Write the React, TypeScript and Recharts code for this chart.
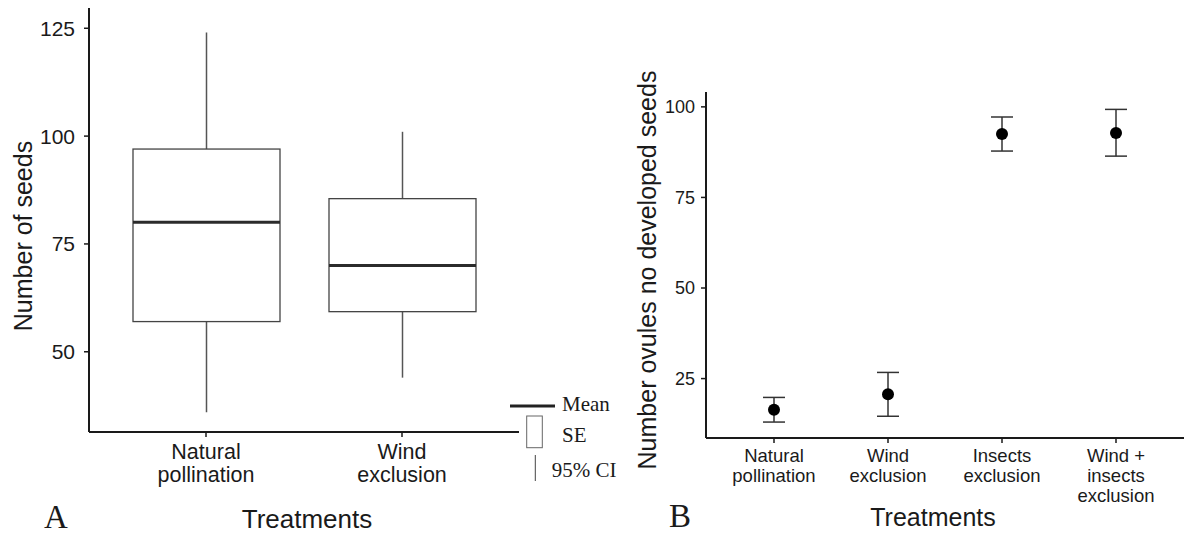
import React from "react";
import { ComposedChart, Bar, Scatter, ErrorBar, XAxis, YAxis } from "recharts";

// Panel A: number of seeds (box = SE, whiskers = 95% CI, line = mean)
const seedCategories = ["Natural\npollination", "Wind\nexclusion"];
const seedLow = [36, 44];
const seedSeLow = [57, 59.3];
const seedMean = [80, 70];
const seedSeHigh = [97, 85.5];
const seedHigh = [124, 101];
const seedTicks = [50, 75, 100, 125];

// Panel B: ovules with no developed seeds (mean +/- error)
const ovuleCategories = [
  "Natural\npollination",
  "Wind\nexclusion",
  "Insects\nexclusion",
  "Wind +\ninsects\nexclusion",
];
const ovuleMean = [16.4, 20.7, 92.5, 92.8];
const ovuleLow = [13.0, 14.6, 87.8, 86.4];
const ovuleHigh = [19.8, 26.7, 97.2, 99.3];
const ovuleTicks = [25, 50, 75, 100];

const SANS = "'Liberation Sans', Arial, sans-serif";
const SERIF = "'Liberation Serif', 'Times New Roman', serif";
const INK = "#1a1a1a";

const seedData = seedCategories.map((name, i) => ({
  name,
  low: seedLow[i],
  seLow: seedSeLow[i],
  mean: seedMean[i],
  seHigh: seedSeHigh[i],
  high: seedHigh[i],
  range: [seedLow[i], seedHigh[i]],
}));

const ovuleData = ovuleCategories.map((name, i) => ({
  name,
  mean: ovuleMean[i],
  err: [ovuleMean[i] - ovuleLow[i], ovuleHigh[i] - ovuleMean[i]],
}));

// draws whisker, SE box and mean line inside the bar's [low, high] pixel span
function BoxShape(props: any) {
  const { x, y, width, height, payload } = props;
  if (!payload) return null;
  const top = Math.min(y, y + height);
  const bottom = Math.max(y, y + height);
  const span = payload.high - payload.low;
  const py = (v: number) => bottom - ((v - payload.low) / span) * (bottom - top);
  const cx = x + width / 2;
  return (
    <g>
      <line x1={cx} x2={cx} y1={top} y2={bottom} stroke="#555" strokeWidth={1.5} />
      <rect
        x={x}
        y={py(payload.seHigh)}
        width={width}
        height={py(payload.seLow) - py(payload.seHigh)}
        fill="#fff"
        stroke="#444"
        strokeWidth={1.3}
      />
      <line x1={x} x2={x + width} y1={py(payload.mean)} y2={py(payload.mean)} stroke="#2b2b2b" strokeWidth={3} />
    </g>
  );
}

function MultiTick(props: any) {
  const { x, y, payload, fontSize, firstDy, lineGap } = props;
  const lines = String(payload.value).split("\n");
  return (
    <text x={x} y={y} textAnchor="middle" fontSize={fontSize} fontFamily={SANS} fill={INK}>
      {lines.map((l, i) => (
        <tspan key={i} x={x} dy={i === 0 ? firstDy : lineGap}>
          {l}
        </tspan>
      ))}
    </text>
  );
}

function Dot(props: any) {
  const { cx, cy } = props;
  return <circle cx={cx} cy={cy} r={6} fill="#000" />;
}

export default function App() {
  return (
    <div style={{ position: "absolute", left: 0, top: 0, width: 1194, height: 536, background: "#fff" }}>
      <div style={{ position: "absolute", left: 0, top: 0 }}>
        <ComposedChart width={540} height={536} data={seedData} margin={{ top: 8, right: 21, bottom: 0, left: 0 }}>
          <XAxis
            dataKey="name"
            height={104}
            padding={{ left: 19, right: 19 }}
            axisLine={{ stroke: INK, strokeWidth: 2 }}
            tickLine={{ stroke: INK, strokeWidth: 1.5 }}
            tickSize={5}
            tickMargin={2}
            interval={0}
            tick={(p: any) => <MultiTick {...p} fontSize={21.5} firstDy={20} lineGap={23} />}
          />
          <YAxis
            type="number"
            width={89}
            domain={[31.4, 129.7]}
            allowDataOverflow
            ticks={seedTicks}
            axisLine={{ stroke: INK, strokeWidth: 2 }}
            tickLine={{ stroke: INK, strokeWidth: 1.5 }}
            tickSize={5}
            tickMargin={9}
            tick={{ fill: INK, fontSize: 21, fontFamily: SANS }}
          />
          <Bar dataKey="range" barSize={147} shape={<BoxShape />} isAnimationActive={false} />
        </ComposedChart>
      </div>

      <div style={{ position: "absolute", left: 600, top: 0 }}>
        <ComposedChart width={594} height={536} data={ovuleData} margin={{ top: 92, right: 10, bottom: 0, left: 0 }}>
          <XAxis
            dataKey="name"
            height={98}
            padding={{ left: 68, right: 68 }}
            axisLine={{ stroke: INK, strokeWidth: 2 }}
            tickLine={{ stroke: INK, strokeWidth: 1.5 }}
            tickSize={5}
            tickMargin={2}
            interval={0}
            tick={(p: any) => <MultiTick {...p} fontSize={18.5} firstDy={17} lineGap={20} />}
          />
          <YAxis
            type="number"
            width={106}
            domain={[8.6, 104.1]}
            allowDataOverflow
            ticks={ovuleTicks}
            axisLine={{ stroke: INK, strokeWidth: 2 }}
            tickLine={{ stroke: INK, strokeWidth: 1.5 }}
            tickSize={5}
            tickMargin={6}
            tick={{ fill: INK, fontSize: 18, fontFamily: SANS }}
          />
          <Scatter dataKey="mean" shape={<Dot />} isAnimationActive={false}>
            <ErrorBar dataKey="err" direction="y" width={11} stroke="#333" strokeWidth={1.5} />
          </Scatter>
        </ComposedChart>
      </div>

      <svg width={1194} height={536} style={{ position: "absolute", left: 0, top: 0, pointerEvents: "none" }}>
        <text x={32} y={236} transform="rotate(-90 32 236)" textAnchor="middle" fontSize={25} fontFamily={SANS} fill={INK}>
          Number of seeds
        </text>
        <text x={307} y={528} textAnchor="middle" fontSize={26} fontFamily={SANS} fill={INK}>
          Treatments
        </text>
        <text x={44} y={528} fontSize={33} fontFamily={SERIF} fill={INK}>
          A
        </text>

        <line x1={510} x2={555} y1={406} y2={406} stroke="#222" strokeWidth={3} />
        <text x={562} y={411} fontSize={21} fontFamily={SERIF} fill={INK}>Mean</text>
        <rect x={526.7} y={416} width={15.6} height={31.7} fill="#fff" stroke="#666" strokeWidth={1} />
        <text x={562} y={442} fontSize={21} fontFamily={SERIF} fill={INK}>SE</text>
        <line x1={535.3} x2={535.3} y1={455} y2={481} stroke="#444" strokeWidth={1} />
        <text x={551.7} y={477} fontSize={21} fontFamily={SERIF} fill={INK}>95% CI</text>

        <text x={656} y={270} transform="rotate(-90 656 270)" textAnchor="middle" fontSize={25} fontFamily={SANS} fill={INK}>
          Number ovules no developed seeds
        </text>
        <text x={933} y={526} textAnchor="middle" fontSize={25} fontFamily={SANS} fill={INK}>
          Treatments
        </text>
        <text x={669} y={527} fontSize={33} fontFamily={SERIF} fill={INK}>
          B
        </text>
      </svg>
    </div>
  );
}
